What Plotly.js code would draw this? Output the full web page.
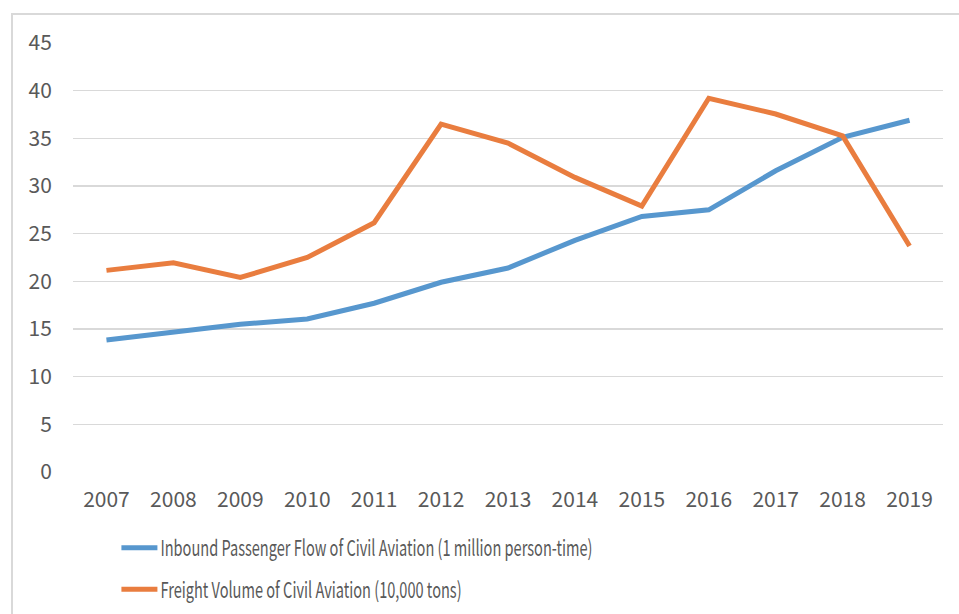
<!DOCTYPE html>
<html>
<head>
<meta charset="utf-8">
<script src="https://cdn.plot.ly/plotly-3.0.1.min.js"></script>
<style>
  html, body { margin: 0; padding: 0; background: #ffffff; }
  #chart { width: 959px; height: 614px; }
</style>
</head>
<body>
<div id="chart"></div>
<script>
const years = ['2007','2008','2009','2010','2011','2012','2013','2014','2015','2016','2017','2018','2019'];
const passengerFlow = [13.85, 14.65, 15.5, 16.05, 17.7, 19.9, 21.4, 24.3, 26.8, 27.5, 31.6, 35.1, 36.9];
const freightVolume = [21.15, 21.95, 20.4, 22.5, 26.15, 36.5, 34.5, 30.9, 27.9, 39.2, 37.55, 35.25, 23.7];
const seriesNames = [
  'Inbound Passenger Flow of Civil Aviation (1 million person-time)',
  'Freight Volume of Civil Aviation (10,000 tons)'
];
const yTicks = [0, 5, 10, 15, 20, 25, 30, 35, 40, 45];

const blue = '#5797CE';
const orange = '#E97D3F';
const textGray = '#595959';
const fontFamily = '"Noto Sans CJK SC", sans-serif';

const traces = [
  { x: years, y: passengerFlow, name: seriesNames[0], type: 'scatter', mode: 'lines',
    line: { color: blue, width: 5 }, legendgroup: 'a' },
  { x: years, y: freightVolume, name: seriesNames[1], type: 'scatter', mode: 'lines',
    line: { color: orange, width: 5 }, legendgroup: 'b' }
];

const layout = {
  width: 959, height: 614,
  paper_bgcolor: '#ffffff', plot_bgcolor: '#ffffff',
  margin: { l: 73, r: 16, t: 43, b: 142, pad: 0, autoexpand: false },
  showlegend: true,
  font: { family: fontFamily, color: textGray, size: 20 },
  xaxis: {
    type: 'category', range: [-0.5, years.length - 0.5],
    showgrid: false, zeroline: false, showline: false,
    ticks: 'outside', ticklen: 9, tickcolor: 'rgba(0,0,0,0)',
    tickfont: { family: fontFamily, size: 21, color: textGray }
  },
  yaxis: {
    range: [0, 45], tickvals: yTicks, ticktext: yTicks.map(String),
    showgrid: true, gridcolor: '#D9D9D9', gridwidth: 1.3,
    zeroline: false, showline: false,
    ticks: 'outside', ticklen: 16, tickcolor: 'rgba(0,0,0,0)',
    tickfont: { family: fontFamily, size: 21, color: textGray }
  },
  legend: {
    orientation: 'v', x: 0.0545, xanchor: 'left', y: -0.128, yanchor: 'top',
    font: { family: fontFamily, size: 22, color: textGray },
    tracegroupgap: 10, itemwidth: 30, bgcolor: 'rgba(0,0,0,0)'
  },
  shapes: [
    { type: 'rect', xref: 'paper', yref: 'paper', x0: -0.0701, x1: 1.2, y0: -0.6, y1: 1.0676,
      line: { color: '#D9D9D9', width: 2 }, fillcolor: 'rgba(0,0,0,0)', layer: 'below' }
  ]
};

Plotly.newPlot('chart', traces, layout, { displayModeBar: false, staticPlot: true }).then(function (gd) {
  // The reference legend uses a condensed face; narrow the legend texts proportionally.
  const texts = gd.querySelectorAll('.legendtext');
  if (texts.length) {
    const first = texts[0].getComputedTextLength();
    const factor = first > 0 ? 432 / first : 1;
    texts.forEach(function (t) {
      const w = t.getComputedTextLength();
      t.setAttribute('textLength', (w * factor).toFixed(1));
      t.setAttribute('lengthAdjust', 'spacingAndGlyphs');
    });
  }
  // Slightly longer legend line swatches, as in the reference.
  gd.querySelectorAll('.legendlines path').forEach(function (p) {
    p.setAttribute('d', 'M1,0h36');
  });
});
</script>
</body>
</html>
